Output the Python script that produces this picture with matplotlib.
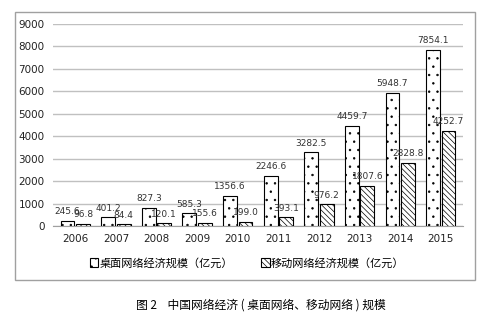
import matplotlib
matplotlib.use("Agg")
import matplotlib.pyplot as plt
from matplotlib.patches import Rectangle
import numpy as np

plt.rcParams['font.family'] = ['Noto Sans CJK SC', 'DejaVu Sans']
plt.rcParams['hatch.linewidth'] = 0.5

years = ['2006', '2007', '2008', '2009', '2010', '2011', '2012', '2013', '2014', '2015']
desktop = [245.6, 401.2, 827.3, 585.3, 1356.6, 2246.6, 3282.5, 4459.7, 5948.7, 7854.1]
mobile = [96.8, 84.4, 120.1, 155.6, 199.0, 393.1, 976.2, 1807.6, 2828.8, 4252.7]
desktop_name = '桌面网络经济规模（亿元）'
mobile_name = '移动网络经济规模（亿元）'
caption = '图 2    中国网络经济 ( 桌面网络、移动网络 ) 规模'

fig = plt.figure(figsize=(5.04, 3.24), dpi=100)
ax = fig.add_axes([0.105, 0.302, 0.814, 0.624])

# outer chart frame
fig.patches.append(Rectangle((15 / 504, 1 - 280 / 324), 460 / 504, 268 / 324,
                             transform=fig.transFigure, fill=False,
                             edgecolor='#a0a0a0', linewidth=1.0))

x = np.arange(len(years))
w = 0.34
gap = 0.04
b1 = ax.bar(x - w / 2 - gap / 2, desktop, w, color='white', edgecolor='black',
            linewidth=0.8, hatch='..', label=desktop_name, zorder=3)
b2 = ax.bar(x + w / 2 + gap / 2, mobile, w, color='white', edgecolor='black',
            linewidth=0.8, hatch='\\\\\\\\\\\\', label=mobile_name, zorder=3)

for bars, vals in ((b1, desktop), (b2, mobile)):
    for r, v in zip(bars, vals):
        ax.text(r.get_x() + r.get_width() / 2, v + 200, f'{v:.1f}',
                ha='center', va='bottom', fontsize=6.5, color='#333333',
                family='DejaVu Sans', zorder=4)

ax.set_ylim(0, 9000)
ax.set_xlim(-0.55, len(years) - 0.45)
ax.set_yticks(np.arange(0, 9001, 1000))
ax.set_xticks(x)
ax.set_xticklabels(years)
ax.yaxis.grid(True, color='#c0c0c0', linewidth=1.0, zorder=0)
ax.set_axisbelow(True)
for s in ('top', 'right', 'left'):
    ax.spines[s].set_visible(False)
ax.spines['bottom'].set_color('#a0a0a0')
ax.tick_params(axis='both', length=0, labelsize=7.5, colors='#222222', pad=6)
for t in ax.get_xticklabels() + ax.get_yticklabels():
    t.set_family('DejaVu Sans')

fig.legend(handles=[b1, b2], loc='center', bbox_to_anchor=(0.49, 1 - 263 / 324),
           ncol=2, frameon=False, fontsize=8, handlelength=0.8,
           handleheight=0.8, handletextpad=0.1, columnspacing=2.5)

fig.text(0.518, 1 - 305 / 324, caption, ha='center', va='center', fontsize=8.5)

fig.savefig('out.png', dpi=100)
